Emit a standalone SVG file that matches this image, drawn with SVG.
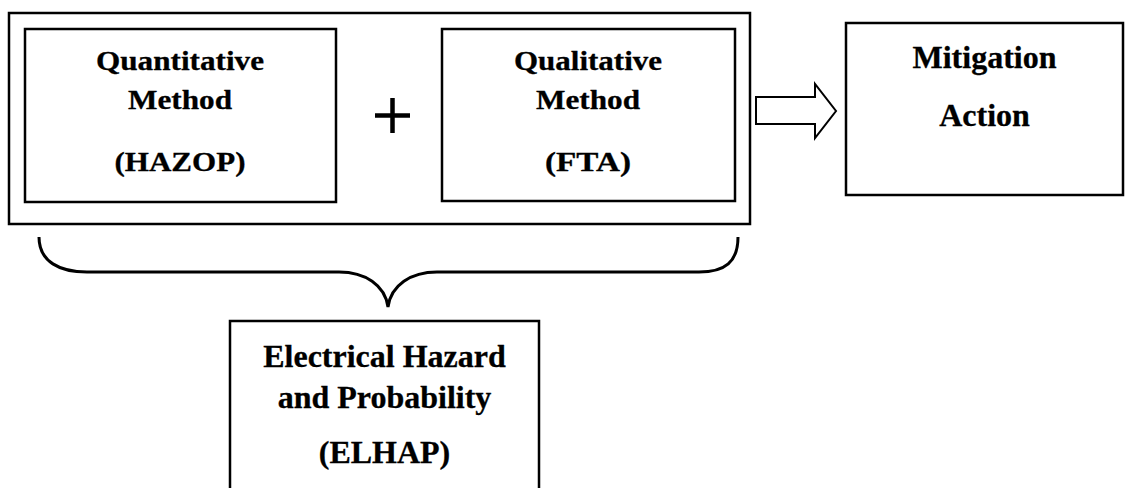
<svg xmlns="http://www.w3.org/2000/svg" width="1132" height="488" viewBox="0 0 1132 488">
<style>
.box{fill:none;stroke:#000;stroke-width:2.5}
.t{font-family:"Liberation Serif","Times New Roman",serif;font-weight:bold;fill:#000;text-anchor:middle;stroke:#000;stroke-width:0.3}
.s{font-size:28px}
.l{font-size:32px}
.conn{fill:none;stroke:#000;stroke-width:3}
</style>
<rect width="1132" height="488" fill="#fff"/>
<g id="combined">
<rect class="box" x="9" y="13" width="741" height="211"/>
</g>
<g id="quantitative">
<rect class="box" x="25" y="29" width="311" height="173"/>
<text class="t s" x="180" y="70" textLength="168" lengthAdjust="spacingAndGlyphs">Quantitative</text>
<text class="t s" x="180" y="108.5" textLength="104" lengthAdjust="spacingAndGlyphs">Method</text>
<text class="t s" x="180" y="171" textLength="131" lengthAdjust="spacingAndGlyphs">(HAZOP)</text>
</g>
<g id="plus">
<path d="M375,115.5 H410 M392.5,98 V133" stroke="#000" stroke-width="4.5" fill="none"/>
</g>
<g id="qualitative">
<rect class="box" x="442" y="29" width="293" height="172"/>
<text class="t s" x="588" y="70" textLength="148" lengthAdjust="spacingAndGlyphs">Qualitative</text>
<text class="t s" x="588" y="108.5" textLength="104" lengthAdjust="spacingAndGlyphs">Method</text>
<text class="t s" x="588" y="171" textLength="86" lengthAdjust="spacingAndGlyphs">(FTA)</text>
</g>
<g id="mitigation">
<rect class="box" x="846" y="23" width="277" height="172" stroke-width="2"/>
<text class="t l" x="984.5" y="67.5">Mitigation</text>
<text class="t l" x="984.5" y="126">Action</text>
</g>
<g id="elhap">
<rect class="box" x="230" y="321" width="309" height="180" stroke-width="2"/>
<text class="t l" x="384.5" y="367">Electrical Hazard</text>
<text class="t l" x="384.5" y="408">and Probability</text>
<text class="t l" x="384.5" y="463">(ELHAP)</text>
</g>
<g id="connectors">
<polygon points="756,97 815,97 815,84 836,111 815,138 815,124 756,124" fill="#fff" stroke="#000" stroke-width="2" stroke-linejoin="miter"/>
<path class="conn" d="M39,237 C39,262 60,272 87,272 L339,272 C365,272 385,285 388,307 C391,285 411,272 437,272 L699,272 C725,272 738,262 738,237"/>
</g>
</svg>
